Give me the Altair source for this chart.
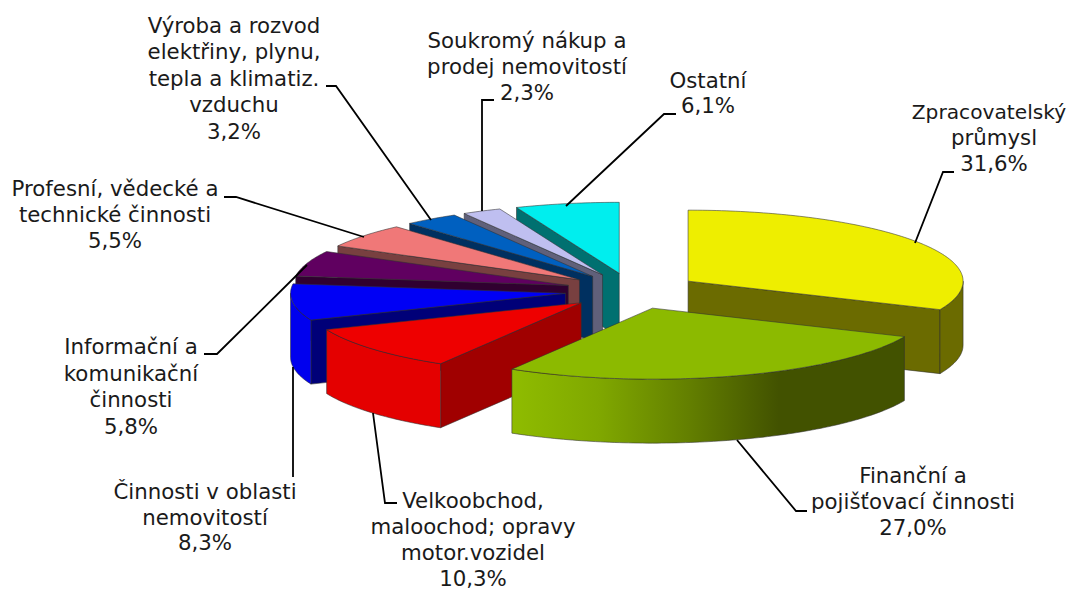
import math
import altair as alt
import pandas as pd

# ---- data ----
categories = ["Zpracovatelský průmysl", "Finanční a pojišťovací činnosti",
              "Velkoobchod, maloochod; opravy motor.vozidel", "Činnosti v oblasti nemovitostí",
              "Informační a komunikační činnosti", "Profesní, vědecké a technické činnosti",
              "Výroba a rozvod elektřiny, plynu, tepla a klimatiz. vzduchu",
              "Soukromý nákup a prodej nemovitostí", "Ostatní"]
shares = [31.6, 27.0, 10.3, 8.3, 5.8, 5.5, 3.2, 2.3, 6.1]
top_colors = ["#eeee00", "#8cba00", "#ee0000", "#0000f5", "#600060", "#f07878", "#0060c0", "#bfbff0", "#00eeee"]
cut_colors = ["#6b6b00", "#425200", "#a00000", "#000078", "#300030", "#784040", "#003060", "#60607a", "#007070"]
rim_colors = ["#6b6b00", None, "#e40000", "#0000ee", "#300030", "#784040", "#003060", "#60607a", "#007070"]
label_lines = [
    ["průmysl", "31,6%"],
    ["Finanční a", "pojišťovací činnosti", "27,0%"],
    ["Velkoobchod,", "maloochod; opravy", "motor.vozidel", "10,3%"],
    ["Činnosti v oblasti", "nemovitostí", "8,3%"],
    ["Informační a", "komunikační", "činnosti", "5,8%"],
    ["Profesní, vědecké a", "technické činnosti", "5,5%"],
    ["Výroba a rozvod", "elektřiny, plynu,", "tepla a klimatiz.", "vzduchu", "3,2%"],
    ["Soukromý nákup a", "prodej nemovitostí", "2,3%"],
    ["Ostatní", "6,1%"],
]
edge_label = "Zpracovatelský"

# ---- layout ----
OFF = 8
CX, CY = 632, 291
A, B, DEPTH = 275, 71, 64
EX_A, EX_B = 67, 18
label_anchor = [(994, 139), (913, 477), (473, 502), (205, 493), (131, 348), (115, 190), (234, 27), (527, 42), (708, 82)]
line_step = [26, 26, 26, 25.5, 26.5, 26, 26.4, 26, 25]
leader_paths = [
    [(915, 243), (943, 172), (954, 172)],
    [(737, 440), (796, 511), (807, 511)],
    [(373, 413), (385, 503), (397, 503)],
    [(293, 367), (293, 477)],
    [(307, 265), (217, 354), (204, 354)],
    [(364, 237), (236, 197), (224, 197)],
    [(431, 220), (336, 86), (326, 86)],
    [(482, 211), (482, 100), (494, 100)],
    [(566, 206), (664, 114), (676, 114)],
]
font = "DejaVu Sans"
font_size = 21.3

green_gradient = alt.LinearGradient(
    gradient="linear", x1=0, x2=1, y1=0, y2=0,
    stops=[alt.GradientStop(offset=0.0, color="#8fbc00"),
           alt.GradientStop(offset=0.22, color="#80a800"),
           alt.GradientStop(offset=0.45, color="#637f00"),
           alt.GradientStop(offset=0.68, color="#425200"),
           alt.GradientStop(offset=1.0, color="#425200")])


def pt(cx, cy, t, dy=0):
    r = math.radians(t)
    return [cx + A * math.sin(r) - OFF, cy - B * math.cos(r) + dy - OFF]


def arc(cx, cy, t0, t1, dy=0):
    n = max(2, int(abs(t1 - t0)) + 2)
    return [pt(cx, cy, t0 + (t1 - t0) * i / (n - 1), dy) for i in range(n)]


def feat(coords, kind="Polygon"):
    g = {"type": kind, "coordinates": [coords + [coords[0]]] if kind == "Polygon" else coords}
    return alt.Data(values=[{"type": "Feature", "properties": {}, "geometry": g}])


total = sum(shares)
slices = []
start = 0.0
for i, s in enumerate(shares):
    sweep = 360 * s / total
    mid = start + sweep / 2
    m = math.radians(mid)
    slices.append(dict(i=i, t0=start, t1=start + sweep,
                       cx=CX + EX_A * math.sin(m), cy=CY - EX_B * math.cos(m), c=math.cos(m)))
    start += sweep

proj = alt.Projection(type="identity", scale=1, translate=[0, 0])
layers = []


def add(coords, fill, stroke="#303030"):
    layers.append(alt.Chart(feat(coords)).mark_geoshape(
        fill=fill, stroke=stroke, strokeWidth=0.8, strokeOpacity=0.7).project(**proj.to_dict()))


for sl in sorted(slices, key=lambda d: -d["c"]):
    i, cx, cy, t0, t1 = sl["i"], sl["cx"], sl["cy"], sl["t0"], sl["t1"]
    v = [cx - OFF, cy - OFF]
    vb = [cx - OFF, cy - OFF + DEPTH]
    # only the cut faces turned toward the viewer are drawn
    if math.sin(math.radians(t0)) < 0:
        add([v, pt(cx, cy, t0), pt(cx, cy, t0, DEPTH), vb], cut_colors[i])
    if math.sin(math.radians(t1)) > 0:
        add([v, pt(cx, cy, t1), pt(cx, cy, t1, DEPTH), vb], cut_colors[i])
    f0, f1 = max(t0, 90), min(t1, 270)
    if f1 > f0:
        fill = green_gradient if rim_colors[i] is None else rim_colors[i]
        add(arc(cx, cy, f0, f1) + arc(cx, cy, f1, f0, DEPTH), fill)
    add([v] + arc(cx, cy, t0, t1), top_colors[i])

for path in leader_paths:
    coords = [[x - OFF, y - OFF] for x, y in path]
    layers.append(alt.Chart(feat(coords, "LineString")).mark_geoshape(
        filled=False, stroke="#000000", strokeWidth=1.8).project(**proj.to_dict()))

rows = []
for lines, (ax, ay), step in zip(label_lines, label_anchor, line_step):
    for k, line in enumerate(lines):
        rows.append({"x": ax - OFF, "y": ay + k * step - OFF, "t": line})
text = alt.Chart(pd.DataFrame(rows)).mark_text(
    font=font, fontSize=font_size, color="#1a1a1a", align="center", baseline="middle"
).encode(x=alt.X("x:Q", scale=None, axis=None), y=alt.Y("y:Q", scale=None, axis=None), text="t:N")
layers.append(text)
# the page ends at the chart's right edge, so this line is kept just inside it
edge = alt.Chart(pd.DataFrame([{"x": 989 - OFF, "y": 113 - OFF, "t": edge_label}])).mark_text(
    font=font, fontSize=20.2, color="#1a1a1a", align="center", baseline="middle"
).encode(x=alt.X("x:Q", scale=None, axis=None), y=alt.Y("y:Q", scale=None, axis=None), text="t:N")
layers.append(edge)

chart = alt.layer(*layers).properties(
    width=1060, height=581, padding=0, autosize=alt.AutoSizeParams(type="none")
).configure_view(stroke=None)
chart.save("out.html", embed_options={"renderer": "svg", "actions": False})
